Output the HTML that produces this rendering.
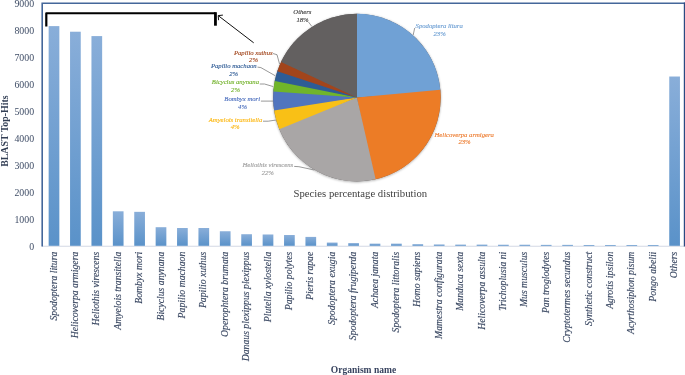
<!DOCTYPE html>
<html><head><meta charset="utf-8"><title>BLAST Top-Hits species distribution</title>
<style>html,body{margin:0;padding:0;background:#fff;}body{width:685px;height:375px;overflow:hidden;}svg{display:block;will-change:transform;font-family:"Liberation Serif","Times New Roman",serif;}</style></head><body>
<svg width="685" height="375" viewBox="0 0 685 375">
<defs><linearGradient id="bg" x1="0" y1="0" x2="0" y2="1"><stop offset="0" stop-color="#89aed9"/><stop offset="1" stop-color="#5a92c9"/></linearGradient><filter id="sh" x="-10%" y="-10%" width="120%" height="120%"><feDropShadow dx="0" dy="0.6" stdDeviation="1.1" flood-color="#000" flood-opacity="0.32"/></filter></defs>
<rect width="685" height="375" fill="#fff"/>
<line x1="42.2" y1="246.20000000000002" x2="684.4" y2="246.20000000000002" stroke="#d3d8e4" stroke-width="1.1"/>
<rect x="48.65" y="26.11" width="10.7" height="219.69" fill="url(#bg)"/>
<rect x="70.05" y="31.72" width="10.7" height="214.08" fill="url(#bg)"/>
<rect x="91.45" y="36.09" width="10.7" height="209.71" fill="url(#bg)"/>
<rect x="112.85" y="211.30" width="10.7" height="34.50" fill="url(#bg)"/>
<rect x="134.25" y="211.84" width="10.7" height="33.96" fill="url(#bg)"/>
<rect x="155.65" y="227.20" width="10.7" height="18.60" fill="url(#bg)"/>
<rect x="177.05" y="228.01" width="10.7" height="17.79" fill="url(#bg)"/>
<rect x="198.45" y="228.01" width="10.7" height="17.79" fill="url(#bg)"/>
<rect x="219.85" y="231.24" width="10.7" height="14.56" fill="url(#bg)"/>
<rect x="241.25" y="234.21" width="10.7" height="11.59" fill="url(#bg)"/>
<rect x="262.65" y="234.48" width="10.7" height="11.32" fill="url(#bg)"/>
<rect x="284.05" y="235.02" width="10.7" height="10.78" fill="url(#bg)"/>
<rect x="305.45" y="236.90" width="10.7" height="8.90" fill="url(#bg)"/>
<rect x="326.85" y="242.57" width="10.7" height="3.23" fill="url(#bg)"/>
<rect x="348.25" y="243.10" width="10.7" height="2.70" fill="url(#bg)"/>
<rect x="369.65" y="243.64" width="10.7" height="2.16" fill="url(#bg)"/>
<rect x="391.05" y="243.64" width="10.7" height="2.16" fill="url(#bg)"/>
<rect x="412.45" y="244.18" width="10.7" height="1.62" fill="url(#bg)"/>
<rect x="433.85" y="244.45" width="10.7" height="1.35" fill="url(#bg)"/>
<rect x="455.25" y="244.59" width="10.7" height="1.21" fill="url(#bg)"/>
<rect x="476.65" y="244.59" width="10.7" height="1.21" fill="url(#bg)"/>
<rect x="498.05" y="244.72" width="10.7" height="1.08" fill="url(#bg)"/>
<rect x="519.45" y="244.72" width="10.7" height="1.08" fill="url(#bg)"/>
<rect x="540.85" y="244.86" width="10.7" height="0.94" fill="url(#bg)"/>
<rect x="562.25" y="244.86" width="10.7" height="0.94" fill="url(#bg)"/>
<rect x="583.65" y="244.99" width="10.7" height="0.81" fill="url(#bg)"/>
<rect x="605.05" y="244.99" width="10.7" height="0.81" fill="url(#bg)"/>
<rect x="626.45" y="244.99" width="10.7" height="0.81" fill="url(#bg)"/>
<rect x="647.85" y="244.99" width="10.7" height="0.81" fill="url(#bg)"/>
<rect x="669.25" y="76.52" width="10.7" height="169.28" fill="url(#bg)"/>
<path d="M42.2 246.60000000000002 V3.2 H685.0" fill="none" stroke="#44679a" stroke-width="1.6"/>
<path d="M684.55 2.4000000000000004 V246.60000000000002" fill="none" stroke="#2b4a82" stroke-width="1.5"/>
<text x="34.1" y="249.90" text-anchor="end" font-size="9.85" fill="#3f4d66">0</text>
<text x="34.1" y="222.94" text-anchor="end" font-size="9.85" fill="#3f4d66">1000</text>
<text x="34.1" y="195.99" text-anchor="end" font-size="9.85" fill="#3f4d66">2000</text>
<text x="34.1" y="169.03" text-anchor="end" font-size="9.85" fill="#3f4d66">3000</text>
<text x="34.1" y="142.08" text-anchor="end" font-size="9.85" fill="#3f4d66">4000</text>
<text x="34.1" y="115.12" text-anchor="end" font-size="9.85" fill="#3f4d66">5000</text>
<text x="34.1" y="88.17" text-anchor="end" font-size="9.85" fill="#3f4d66">6000</text>
<text x="34.1" y="61.21" text-anchor="end" font-size="9.85" fill="#3f4d66">7000</text>
<text x="34.1" y="34.26" text-anchor="end" font-size="9.85" fill="#3f4d66">8000</text>
<text x="34.1" y="7.30" text-anchor="end" font-size="9.85" fill="#3f4d66">9000</text>
<text transform="translate(7.8,131.1) rotate(-90)" text-anchor="middle" font-size="9.9" font-weight="bold" fill="#333f55">BLAST Top-Hits</text>
<text transform="translate(56.50,251.7) rotate(-90)" text-anchor="end" font-size="9.73" font-style="italic" fill="#3b4963" stroke="#3b4963" stroke-width="0.15">Spodoptera litura</text>
<text transform="translate(77.90,251.7) rotate(-90)" text-anchor="end" font-size="9.73" font-style="italic" fill="#3b4963" stroke="#3b4963" stroke-width="0.15">Helicoverpa armigera</text>
<text transform="translate(99.30,251.7) rotate(-90)" text-anchor="end" font-size="9.73" font-style="italic" fill="#3b4963" stroke="#3b4963" stroke-width="0.15">Heliothis virescens</text>
<text transform="translate(120.70,251.7) rotate(-90)" text-anchor="end" font-size="9.73" font-style="italic" fill="#3b4963" stroke="#3b4963" stroke-width="0.15">Amyelois transitella</text>
<text transform="translate(142.10,251.7) rotate(-90)" text-anchor="end" font-size="9.73" font-style="italic" fill="#3b4963" stroke="#3b4963" stroke-width="0.15">Bombyx mori</text>
<text transform="translate(163.50,251.7) rotate(-90)" text-anchor="end" font-size="9.73" font-style="italic" fill="#3b4963" stroke="#3b4963" stroke-width="0.15">Bicyclus anynana</text>
<text transform="translate(184.90,251.7) rotate(-90)" text-anchor="end" font-size="9.73" font-style="italic" fill="#3b4963" stroke="#3b4963" stroke-width="0.15">Papilio machaon</text>
<text transform="translate(206.30,251.7) rotate(-90)" text-anchor="end" font-size="9.73" font-style="italic" fill="#3b4963" stroke="#3b4963" stroke-width="0.15">Papilio xuthus</text>
<text transform="translate(227.70,251.7) rotate(-90)" text-anchor="end" font-size="9.73" font-style="italic" fill="#3b4963" stroke="#3b4963" stroke-width="0.15">Operophtera brumata</text>
<text transform="translate(249.10,251.7) rotate(-90)" text-anchor="end" font-size="9.73" font-style="italic" fill="#3b4963" stroke="#3b4963" stroke-width="0.15">Danaus plexippus plexippus</text>
<text transform="translate(270.50,251.7) rotate(-90)" text-anchor="end" font-size="9.73" font-style="italic" fill="#3b4963" stroke="#3b4963" stroke-width="0.15">Plutella xylostella</text>
<text transform="translate(291.90,251.7) rotate(-90)" text-anchor="end" font-size="9.73" font-style="italic" fill="#3b4963" stroke="#3b4963" stroke-width="0.15">Papilio polytes</text>
<text transform="translate(313.30,251.7) rotate(-90)" text-anchor="end" font-size="9.73" font-style="italic" fill="#3b4963" stroke="#3b4963" stroke-width="0.15">Pieris rapae</text>
<text transform="translate(334.70,251.7) rotate(-90)" text-anchor="end" font-size="9.73" font-style="italic" fill="#3b4963" stroke="#3b4963" stroke-width="0.15">Spodoptera exugia</text>
<text transform="translate(356.10,251.7) rotate(-90)" text-anchor="end" font-size="9.73" font-style="italic" fill="#3b4963" stroke="#3b4963" stroke-width="0.15">Spodoptera frugiperda</text>
<text transform="translate(377.50,251.7) rotate(-90)" text-anchor="end" font-size="9.73" font-style="italic" fill="#3b4963" stroke="#3b4963" stroke-width="0.15">Achaea janata</text>
<text transform="translate(398.90,251.7) rotate(-90)" text-anchor="end" font-size="9.73" font-style="italic" fill="#3b4963" stroke="#3b4963" stroke-width="0.15">Spodoptera littoralis</text>
<text transform="translate(420.30,251.7) rotate(-90)" text-anchor="end" font-size="9.73" font-style="italic" fill="#3b4963" stroke="#3b4963" stroke-width="0.15">Homo sapiens</text>
<text transform="translate(441.70,251.7) rotate(-90)" text-anchor="end" font-size="9.73" font-style="italic" fill="#3b4963" stroke="#3b4963" stroke-width="0.15">Mamestra configurata</text>
<text transform="translate(463.10,251.7) rotate(-90)" text-anchor="end" font-size="9.73" font-style="italic" fill="#3b4963" stroke="#3b4963" stroke-width="0.15">Manduca sexta</text>
<text transform="translate(484.50,251.7) rotate(-90)" text-anchor="end" font-size="9.73" font-style="italic" fill="#3b4963" stroke="#3b4963" stroke-width="0.15">Helicoverpa assulta</text>
<text transform="translate(505.90,251.7) rotate(-90)" text-anchor="end" font-size="9.73" font-style="italic" fill="#3b4963" stroke="#3b4963" stroke-width="0.15">Trichoplusia ni</text>
<text transform="translate(527.30,251.7) rotate(-90)" text-anchor="end" font-size="9.73" font-style="italic" fill="#3b4963" stroke="#3b4963" stroke-width="0.15">Mus musculus</text>
<text transform="translate(548.70,251.7) rotate(-90)" text-anchor="end" font-size="9.73" font-style="italic" fill="#3b4963" stroke="#3b4963" stroke-width="0.15">Pan troglodytes</text>
<text transform="translate(570.10,251.7) rotate(-90)" text-anchor="end" font-size="9.73" font-style="italic" fill="#3b4963" stroke="#3b4963" stroke-width="0.15">Cryptotermes secundus</text>
<text transform="translate(591.50,251.7) rotate(-90)" text-anchor="end" font-size="9.73" font-style="italic" fill="#3b4963" stroke="#3b4963" stroke-width="0.15">Synthetic construct</text>
<text transform="translate(612.90,251.7) rotate(-90)" text-anchor="end" font-size="9.73" font-style="italic" fill="#3b4963" stroke="#3b4963" stroke-width="0.15">Agrotis ipsilon</text>
<text transform="translate(634.30,251.7) rotate(-90)" text-anchor="end" font-size="9.73" font-style="italic" fill="#3b4963" stroke="#3b4963" stroke-width="0.15">Acyrthosiphon pisum</text>
<text transform="translate(655.70,251.7) rotate(-90)" text-anchor="end" font-size="9.73" font-style="italic" fill="#3b4963" stroke="#3b4963" stroke-width="0.15">Pongo abelii</text>
<text transform="translate(677.10,251.7) rotate(-90)" text-anchor="end" font-size="9.73" font-style="italic" fill="#3b4963" stroke="#3b4963" stroke-width="0.15">Others</text>
<text x="363.5" y="372.9" text-anchor="middle" font-size="9.52" font-weight="bold" fill="#394460">Organism name</text>
<path d="M46.3 26.4 V13.25 H215.5" fill="none" stroke="#000" stroke-width="2.2" stroke-linejoin="round"/>
<path d="M215.45 12.2 V25.7" fill="none" stroke="#000" stroke-width="2.8"/>
<path d="M253.7 42.8 L218.2 15.6 M222.9 15.1 L218.2 15.6 L218.6 20.2" fill="none" stroke="#111" stroke-width="1"/>
<g filter="url(#sh)">
<circle cx="356.9" cy="97.6" r="83.8" fill="#636060"/>
<path d="M356.9 97.6 L356.90 13.80 A83.8 83.8 0 0 1 440.53 92.25 Z" fill="#70a1d5"/>
<path d="M356.9 97.6 L440.33 89.75 A83.8 83.8 0 0 1 373.17 179.80 Z" fill="#ec7b27"/>
<path d="M356.9 97.6 L375.63 179.28 A83.8 83.8 0 0 1 278.36 126.83 Z" fill="#a9a6a6"/>
<path d="M356.9 97.6 L279.28 129.18 A83.8 83.8 0 0 1 273.75 108.00 Z" fill="#f9c016"/>
<path d="M356.9 97.6 L274.10 110.49 A83.8 83.8 0 0 1 273.55 88.91 Z" fill="#5174be"/>
<path d="M356.9 97.6 L273.33 91.41 A83.8 83.8 0 0 1 275.29 78.58 Z" fill="#6fb52c"/>
<path d="M356.9 97.6 L274.75 81.04 A83.8 83.8 0 0 1 278.14 68.98 Z" fill="#2f5b95"/>
<path d="M356.9 97.6 L277.32 71.35 A83.8 83.8 0 0 1 282.12 59.78 Z" fill="#a2451c"/>
<path d="M356.9 97.6 L281.02 62.04 A83.8 83.8 0 0 1 356.90 13.80 Z" fill="#636060"/>
</g>
<polyline points="414.7,28.0 413.2,35.0" fill="none" stroke="#7f7f7f" stroke-width="0.8"/>
<text x="439.2" y="28.0" text-anchor="middle" font-size="6.67" font-style="italic" font-weight="normal" fill="#6fa0d4" stroke="#6fa0d4" stroke-width="0.14">Spodoptera litura</text>
<text x="439.6" y="35.8" text-anchor="middle" font-size="6.67" font-style="italic" font-weight="normal" fill="#6fa0d4" stroke="#6fa0d4" stroke-width="0.14">23%</text>
<text x="464.2" y="136.7" text-anchor="middle" font-size="6.67" font-style="italic" font-weight="normal" fill="#ed7d31" stroke="#ed7d31" stroke-width="0.14">Helicoverpa armigera</text>
<text x="464.5" y="144.3" text-anchor="middle" font-size="6.67" font-style="italic" font-weight="normal" fill="#ed7d31" stroke="#ed7d31" stroke-width="0.14">23%</text>
<polyline points="294.2,166.4 298.9,166.7 314.3,170.0" fill="none" stroke="#7f7f7f" stroke-width="0.8"/>
<text x="267.8" y="166.8" text-anchor="middle" font-size="6.67" font-style="italic" font-weight="normal" fill="#a0a0a0" stroke="#a0a0a0" stroke-width="0.14">Heliothis virescens</text>
<text x="267.8" y="174.7" text-anchor="middle" font-size="6.67" font-style="italic" font-weight="normal" fill="#a0a0a0" stroke="#a0a0a0" stroke-width="0.14">22%</text>
<polyline points="263.0,121.2 268.2,121.2 276.2,120.0" fill="none" stroke="#7f7f7f" stroke-width="0.8"/>
<text x="235.5" y="121.5" text-anchor="middle" font-size="6.67" font-style="italic" font-weight="normal" fill="#fcb711" stroke="#fcb711" stroke-width="0.14">Amyelois transitella</text>
<text x="235.2" y="129.1" text-anchor="middle" font-size="6.67" font-style="italic" font-weight="normal" fill="#fcb711" stroke="#fcb711" stroke-width="0.14">4%</text>
<polyline points="260.9,101.1 273.0,101.1" fill="none" stroke="#7f7f7f" stroke-width="0.8"/>
<text x="242.2" y="101.4" text-anchor="middle" font-size="6.67" font-style="italic" font-weight="normal" fill="#4c6fbe" stroke="#4c6fbe" stroke-width="0.14">Bombyx mori</text>
<text x="242.5" y="108.8" text-anchor="middle" font-size="6.67" font-style="italic" font-weight="normal" fill="#4c6fbe" stroke="#4c6fbe" stroke-width="0.14">4%</text>
<polyline points="259.8,84.0 264.5,84.0 273.3,86.6" fill="none" stroke="#7f7f7f" stroke-width="0.8"/>
<text x="235.4" y="84.3" text-anchor="middle" font-size="6.67" font-style="italic" font-weight="normal" fill="#72b22a" stroke="#72b22a" stroke-width="0.14">Bicyclus anynana</text>
<text x="235.5" y="92.0" text-anchor="middle" font-size="6.67" font-style="italic" font-weight="normal" fill="#72b22a" stroke="#72b22a" stroke-width="0.14">2%</text>
<polyline points="257.5,67.1 260.9,67.6 275.5,75.9" fill="none" stroke="#7f7f7f" stroke-width="0.8"/>
<text x="233.8" y="67.9" text-anchor="middle" font-size="6.67" font-style="italic" font-weight="normal" fill="#2f5b95" stroke="#2f5b95" stroke-width="0.14">Papilio machaon</text>
<text x="233.7" y="75.6" text-anchor="middle" font-size="6.67" font-style="italic" font-weight="normal" fill="#2f5b95" stroke="#2f5b95" stroke-width="0.14">2%</text>
<polyline points="272.9,53.5 277.0,54.7 279.6,64.2" fill="none" stroke="#7f7f7f" stroke-width="0.8"/>
<text x="253.3" y="54.7" text-anchor="middle" font-size="6.67" font-style="italic" font-weight="normal" fill="#a2451c" stroke="#a2451c" stroke-width="0.14">Papilio xuthus</text>
<text x="253.5" y="62.0" text-anchor="middle" font-size="6.67" font-style="italic" font-weight="normal" fill="#a2451c" stroke="#a2451c" stroke-width="0.14">2%</text>
<polyline points="308.4,21.9 311.8,26.4" fill="none" stroke="#7f7f7f" stroke-width="0.8"/>
<text x="302.4" y="14.4" text-anchor="middle" font-size="6.67" font-style="italic" font-weight="normal" fill="#404040" stroke="#404040" stroke-width="0.14">Others</text>
<text x="302.5" y="21.7" text-anchor="middle" font-size="6.67" font-style="italic" font-weight="normal" fill="#404040" stroke="#404040" stroke-width="0.14">18%</text>
<text x="360.35" y="196.8" text-anchor="middle" font-size="10.7" fill="#404040">Species percentage distribution</text>
</svg></body></html>
